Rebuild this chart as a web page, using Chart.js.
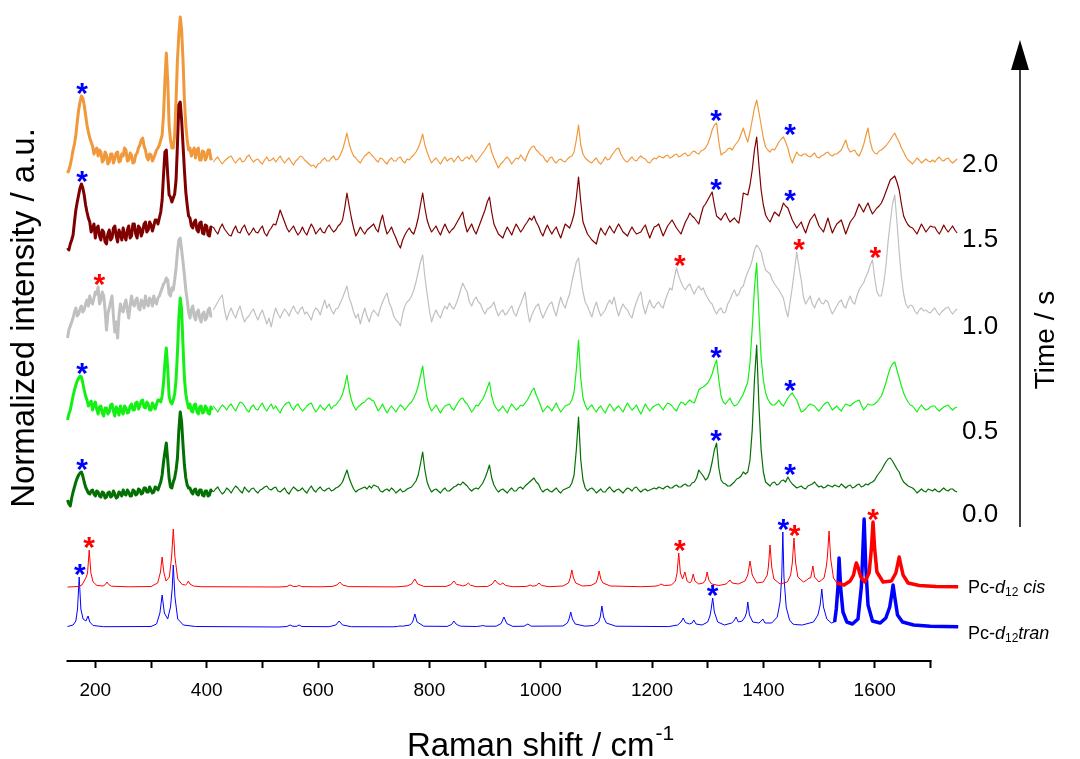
<!DOCTYPE html>
<html>
<head>
<meta charset="utf-8">
<script src="https://cdn.jsdelivr.net/npm/chart.js@4.4.1/dist/chart.umd.min.js"></script>
<style>
  html, body { margin: 0; padding: 0; background: #ffffff; }
  #wrap { width: 1080px; height: 759px; position: relative; }
</style>
</head>
<body>
<div id="wrap"><canvas id="c" width="1080" height="759"></canvas></div>
<script>
// ---------- sampling grids (Raman shift, cm^-1) ----------
function range(start, stop, step) {
  const out = [];
  for (let v = start; v <= stop + 1e-9; v += step) out.push(v);
  return out;
}
const lowShift = range(150, 410, 2.5);   // low-wavenumber window
const highShift = range(412, 1748, 4);   // fingerprint window

const tickValues = [200, 300, 400, 500, 600, 700, 800, 900, 1000, 1100, 1200, 1300, 1400, 1500, 1600, 1700];
const timeLabels = ['0.0', '0.5', '1.0', '1.5', '2.0'];

// ---------- measured spectra (intensity above each trace's own baseline, a.u.) ----------
const low0_0 = [
  -10,-14,-16,-8,-2,3,8,12,15,17,18,14,8,3,0,-3,-4,-1,0,-4,
  -6,-1,-2,-6,-7,-2,-3,-8,-7,-3,-2,-7,-6,-1,-4,-8,-7,-2,-3,-6,
  0,-4,-5,0,-2,-6,-6,0,-1,-5,-4,1,0,-4,-3,2,2,-2,-2,3,
  0,-3,-2,3,2,0,4,8,15,28,38,47,30,12,3,2,8,12,20,32,
  60,78,68,45,25,12,5,2,2,-2,-4,0,1,-4,-5,0,0,-5,-6,-1,
  -1,-6,-5,0,-2];
const high0_0 = [
  -2,1,3,-1,-4,-2,2,0,-3,1,4,2,-1,-3,3,0,-2,1,2,-1,
  -3,0,1,3,4,1,0,2,3,-1,-2,0,2,-2,-4,0,3,1,-1,0,
  2,-1,-3,1,4,0,-2,1,3,0,-1,1,2,-1,0,2,3,5,8,14,
  20,12,6,1,-2,0,1,2,3,1,4,2,5,4,3,-1,-2,0,1,-1,
  2,0,-3,-1,1,-2,-1,1,2,3,6,9,15,26,38,20,8,2,-2,0,
  1,-1,-3,0,2,-1,-1,1,3,4,6,5,8,6,4,1,-1,1,2,1,
  4,7,12,18,25,12,5,1,-2,0,1,-1,-3,0,2,-1,-1,2,3,1,
  4,6,8,10,12,8,6,1,-2,0,1,-1,-2,0,2,-1,-3,0,1,2,
  3,7,15,40,73,30,10,2,-1,1,2,0,-3,-1,1,-2,-2,1,3,0,
  -2,0,1,-1,-3,0,2,1,-1,2,3,0,-2,0,1,-1,0,1,2,1,
  3,2,1,3,4,2,2,4,5,3,3,5,6,4,4,7,8,12,20,17,
  14,10,12,18,28,40,47,22,10,7,6,4,4,6,8,11,12,14,18,16,
  18,30,60,110,145,85,40,18,8,6,4,7,8,5,6,9,10,8,13,9,
  6,4,2,3,4,2,1,4,5,6,8,5,3,4,2,3,5,4,3,5,
  4,3,6,4,2,4,5,2,3,5,6,3,4,6,5,7,8,10,14,17,
  20,24,28,31,32,29,25,21,18,12,8,6,4,3,2,0,-3,-1,1,-1,
  -2,1,0,-1,1,-1,-2,0,2,0,-1,1,1,-1,-2];

const low0_5 = [
  -12,-6,-2,5,12,18,23,27,30,32,31,25,18,12,8,2,4,7,-2,3,
  6,-1,-6,1,2,-5,-8,0,0,-6,-4,3,4,-3,-8,1,-2,-7,2,-3,
  -6,2,0,-5,-4,2,4,-2,-2,5,6,-1,2,7,8,1,0,6,4,-2,
  -2,5,2,-1,4,8,8,6,12,25,45,60,40,12,6,4,8,14,28,55,
  90,110,98,62,30,14,6,0,4,-3,-4,3,4,-4,-6,1,2,-5,-4,2,
  0,-5,-6,1,-2];
const high0_5 = [
  2,-1,-4,0,3,1,-2,2,4,0,-3,2,6,5,2,-2,-4,1,3,-1,
  -2,2,5,0,-3,1,4,-1,2,-2,-5,0,3,5,6,1,-2,2,4,0,
  -3,-1,2,4,5,0,-4,-1,3,0,-2,1,4,-1,2,3,6,9,14,22,
  33,18,8,2,-2,1,3,5,6,9,10,8,7,2,-3,0,4,-1,-5,-1,
  2,-1,-4,0,3,1,-2,1,4,6,10,15,22,32,42,24,10,2,-3,0,
  3,-1,-5,-1,2,3,4,0,-2,2,6,9,10,6,4,0,-4,-1,3,2,
  6,9,14,20,26,12,4,0,-3,-1,2,-2,-5,0,4,1,-2,0,3,2,
  5,8,12,17,20,13,8,2,-4,-1,2,0,-3,1,5,0,-4,-1,2,3,
  4,8,16,38,68,30,10,3,-2,1,3,-1,-4,0,2,-2,-5,0,4,1,
  -3,0,2,-1,-4,1,5,1,-2,0,3,-2,-6,-1,4,0,-3,0,2,3,
  4,1,-2,2,5,4,2,-1,-3,2,6,5,3,6,8,6,5,11,18,20,
  21,23,25,29,34,42,48,28,12,6,4,7,10,5,2,3,6,10,14,20,
  26,45,80,120,145,95,50,28,15,9,5,3,3,5,8,4,2,6,10,13,
  15,11,8,2,-4,-3,-1,2,4,3,2,-1,-3,0,3,5,6,2,-2,0,
  2,-1,-3,1,4,3,2,4,6,7,8,3,-2,1,4,3,3,4,6,9,
  12,18,25,33,40,44,46,38,30,22,15,10,6,3,2,-1,-4,0,3,0,
  -2,-1,1,2,2,-1,-3,-1,1,2,3,0,-2,0,1];

const low1_0 = [
  -26,-18,-14,-10,-6,0,4,-4,-2,3,6,0,2,8,12,6,16,10,8,14,
  20,18,25,8,12,20,16,2,-18,-2,4,10,16,-4,-20,-10,-26,-4,8,2,
  0,8,12,2,-6,6,16,8,6,12,14,4,2,12,10,4,16,8,6,14,
  12,6,16,10,8,14,16,20,24,28,30,34,32,18,16,24,22,32,44,60,
  72,74,62,50,37,22,12,0,-6,2,6,-4,-8,0,2,-6,-10,-2,0,-8,
  -6,2,4,-4,-4];
const high1_0 = [
  2,6,10,14,17,2,-8,-1,4,-2,-6,1,6,-3,-10,-6,-4,0,3,-3,
  -8,-2,2,-5,-12,-6,-15,-4,4,-2,-6,-1,3,0,-4,2,6,1,-2,3,
  5,-2,0,-4,-8,0,4,2,-3,5,12,4,8,2,-2,3,4,9,14,20,
  26,14,8,0,-6,-2,-12,-3,4,-4,-10,-2,2,-1,-4,4,10,15,19,9,
  4,-4,-8,-10,-14,-2,6,10,12,16,22,30,40,50,57,35,18,2,-10,-3,
  2,-3,-6,1,6,3,9,5,3,8,14,22,29,24,20,10,6,12,15,10,
  8,2,-2,3,4,6,10,2,-4,0,2,-3,-1,3,6,-1,-4,3,8,14,
  20,2,-10,-3,2,6,8,0,-6,-1,4,8,10,2,-4,6,15,8,4,12,
  18,30,40,50,54,35,20,10,6,0,-5,4,10,2,-4,-1,2,8,12,8,
  15,4,-4,3,8,4,2,-3,-6,3,10,16,20,6,-2,6,12,6,4,8,
  10,6,4,12,18,24,22,34,44,36,30,25,22,26,28,22,18,23,26,22,
  24,18,14,10,8,2,-2,2,4,-1,0,8,12,18,22,16,18,24,26,34,
  40,45,52,62,67,64,60,50,42,40,38,32,28,25,22,18,14,3,-5,10,
  25,42,60,45,32,15,8,12,16,8,4,10,14,9,8,12,10,3,-2,2,
  6,10,12,6,4,11,16,10,8,16,22,26,29,35,40,47,52,34,20,16,
  16,28,45,70,90,108,117,90,60,35,18,8,4,7,6,1,-2,2,4,1,
  2,0,-1,2,4,0,-3,0,2,4,5,1,-2,1,3];

const low1_5 = [
  -18,-20,-14,-10,-5,8,20,28,35,42,46,42,35,25,18,12,8,-2,2,6,
  -8,2,4,-6,-10,0,-2,-12,-14,-4,0,-10,-8,2,4,-6,-12,0,-4,-10,
  2,-6,-10,0,4,-8,-6,6,6,-4,-8,4,2,-6,-2,6,8,-2,0,8,
  5,-1,4,10,10,6,12,18,30,55,78,80,55,35,33,28,32,36,50,85,
  125,128,110,85,60,38,25,14,12,4,2,8,10,0,-2,7,8,-3,-4,5,
  4,-5,-6,3,2];
const high1_5 = [
  3,-1,-4,2,6,1,-2,-5,-6,0,4,-2,-3,2,5,-1,-5,-2,2,-2,
  -3,1,4,-3,-6,-1,2,6,5,12,20,14,8,2,-2,1,4,-1,-5,-2,
  3,-2,-5,1,6,2,-4,-1,2,-2,-3,2,5,1,-2,0,4,6,10,22,
  37,24,12,2,-6,-2,3,-1,-4,0,2,4,6,1,-2,8,15,4,-4,-1,
  3,-3,-8,-14,-18,-10,-5,-1,2,-2,-4,3,12,25,37,22,10,3,-2,1,
  4,-1,-5,1,6,1,-3,0,2,6,10,14,18,6,-2,2,6,0,-4,2,
  8,14,20,28,33,18,6,1,-4,-6,-8,-2,3,-1,-5,1,6,2,-2,1,
  5,8,12,10,14,8,4,-2,-6,0,5,0,-4,0,3,-3,-8,-1,6,4,
  2,8,16,32,53,28,8,2,-4,-7,-10,-12,-14,-5,2,-2,-5,0,4,0,
  -3,2,6,2,-2,-4,-6,-1,3,-1,-4,-3,-2,2,5,-2,-8,-2,3,4,
  6,0,-6,-1,4,7,10,6,2,-1,-4,2,8,12,17,14,12,9,6,15,
  23,26,30,34,38,25,14,12,10,14,17,12,8,10,12,9,7,20,37,36,
  35,45,60,80,93,65,40,25,15,11,8,13,18,16,14,20,27,24,22,16,
  10,6,2,5,8,2,-3,4,10,13,16,10,4,1,-2,5,12,4,-3,2,
  6,8,10,3,-4,2,8,11,14,20,26,22,18,23,27,21,16,19,22,24,
  27,32,38,44,50,52,54,48,40,26,14,9,5,3,2,-1,-4,1,6,2,
  -2,1,4,3,3,-1,-4,0,5,1,-2,1,4,0,-3];

const low2_0 = [
  -13,-10,-5,2,10,16,25,38,50,58,64,62,55,45,35,28,22,18,14,6,
  10,12,4,10,8,-2,0,8,5,-4,-2,6,6,-3,1,7,8,-2,-1,6,
  4,12,10,-1,0,7,5,-3,-2,5,7,12,15,20,22,14,10,3,0,6,
  5,-1,2,6,10,12,15,20,25,45,80,107,80,35,20,12,12,25,60,100,
  125,143,130,100,60,35,20,10,12,4,8,12,2,10,12,0,0,9,8,0,
  3,10,10,1,2];
const high2_0 = [
  -2,1,3,-1,-4,-1,1,3,4,0,-3,0,2,-2,-1,3,5,1,-2,0,
  1,-2,-4,0,3,-1,0,2,-2,1,4,0,-3,0,2,-2,-5,-1,1,4,
  3,0,-2,-4,-6,-5,-8,-4,-3,0,2,-1,-1,2,4,0,1,5,10,18,
  27,16,9,4,2,-1,-3,1,4,6,8,5,3,0,-2,2,1,-2,-4,0,
  2,-1,-1,2,3,-1,-3,1,0,3,5,8,12,18,26,15,8,2,-3,0,
  2,-1,-4,0,3,-1,1,2,-2,1,4,0,-1,2,3,1,5,1,-2,1,
  4,7,10,14,17,8,2,-3,-8,-4,-2,1,3,0,-4,-1,2,1,5,2,
  -1,5,10,13,14,10,8,5,4,0,-2,2,3,-1,-3,0,1,-1,-2,1,
  3,4,8,20,35,15,6,2,0,-2,-3,0,2,-2,-4,-1,3,0,1,5,
  8,11,12,6,2,-1,-2,1,3,0,-1,2,4,2,1,-2,-3,0,2,1,
  4,3,2,4,5,2,3,5,6,3,4,6,7,4,5,8,9,7,6,9,
  10,12,16,22,30,35,37,18,5,7,8,11,12,10,14,17,20,26,32,24,
  18,28,40,52,60,48,35,22,13,10,8,11,10,14,18,21,23,18,12,3,
  -3,3,8,5,4,6,6,4,3,5,7,3,2,4,5,7,8,5,4,6,
  6,8,10,15,20,12,8,9,10,6,4,9,15,24,32,18,10,7,6,9,
  10,12,14,17,20,24,27,22,18,12,8,3,0,-2,-4,-1,2,0,-3,-1,
  1,-1,-2,0,-2,1,3,0,-1,1,2,-1,-3,-1,1];

// ---------- calculated spectra of Pc-d12 ([shift, intensity]) ----------
const cisSpectrum = [
  [150,0],[170,0.5],[176,2],[180,6],[183,9],[186,14],[189,37],[192,14],[196,5],[203,1.5],
  [214,1],[218,2.5],[221,5],[224,2.5],[229,0.8],[260,0.2],[300,0.5],[312,4],[317,15],[320,30],
  [323,15],[327,6],[333,10],[337,30],[340,58],[343,30],[348,8],[356,2.5],[362,2],[365,3.5],
  [367,6],[370,3],[376,1],[390,0.3],[530,0],[544,0.5],[550,2],[556,0.5],[562,0.6],[566,1.5],
  [571,0.4],[600,0.2],[625,0.5],[634,2],[639,5],[644,2],[655,0.4],[740,0.1],[760,1],[768,3],
  [774,8],[779,3],[790,0.6],[830,0.6],[839,2.5],[844,6],[849,2.5],[855,2],[860,1],[866,2],
  [870,4],[874,1.8],[884,0.3],[905,0.6],[913,3],[918,7],[923,3.5],[928,2.5],[932,4],[937,1.5],
  [950,0.3],[972,0.5],[977,1],[981,2],[986,0.8],[992,1.5],[997,4],[1002,1.5],[1015,0.3],[1040,1],
  [1050,4],[1053,9],[1056,17],[1059,9],[1063,4],[1075,1],[1090,1.5],[1099,4],[1102,8],[1105,16],
  [1108,8],[1112,4],[1125,1],[1180,0.3],[1205,0.8],[1212,1.5],[1216,3],[1222,1.5],[1235,2],[1242,6],
  [1245,14],[1248,34],[1251,14],[1255,8],[1259,15],[1263,6],[1268,4],[1271,6],[1274,13],[1277,6],
  [1284,3],[1292,4],[1296,7],[1299,15],[1302,7],[1307,3],[1320,1.5],[1333,3],[1337,5],[1340,7],
  [1344,4],[1355,3],[1367,6],[1372,12],[1376,26],[1380,12],[1388,4],[1400,5],[1407,12],[1409,20],
  [1412,42],[1415,20],[1419,8],[1430,3],[1443,5],[1449,12],[1452,24],[1455,49],[1458,24],[1462,10],
  [1472,5],[1478,7],[1482,9],[1485,9],[1489,21],[1492,10],[1500,5],[1509,9],[1513,20],[1515,30],
  [1518,56],[1521,28],[1526,9],[1532,4],[1545,2],[1556,6],[1562,12],[1565,20],[1567,24],[1570,20],
  [1575,10],[1582,5],[1590,14],[1594,38],[1597,65],[1600,38],[1604,15],[1615,5],[1630,6],[1638,14],
  [1641,22],[1644,30],[1647,22],[1651,12],[1660,4],[1680,1.5],[1710,0.5],[1750,0.2]
];
const transSpectrum = [
  [150,0.5],[160,2],[165,6],[168,18],[171,50],[174,18],[178,8],[183,6],[187,11],[190,5],
  [196,1.5],[215,0.3],[300,0.5],[310,3],[316,14],[320,32],[324,14],[330,8],[335,20],[338,38],
  [340,62],[343,30],[348,8],[358,2],[380,0.5],[530,0],[544,0.5],[550,2],[555,0.7],[562,0.7],
  [566,2],[571,0.5],[620,0.3],[632,2],[638,6],[644,2],[660,0.3],[735,0.2],[743,0.6],[747,1],
  [752,0.8],[765,2],[770,5],[774,13],[778,5],[790,0.8],[832,0.6],[840,2.5],[844,6],[848,3],
  [851,2],[856,0.8],[885,0.5],[892,1],[896,1.5],[901,0.8],[920,0.8],[929,3.5],[934,10],[939,3.5],
  [950,0.6],[970,0.8],[977,3],[983,0.8],[1040,1],[1048,4],[1051,8],[1054,15],[1057,8],[1062,3],
  [1080,0.8],[1095,1.5],[1104,5],[1107,10],[1110,21],[1113,10],[1118,4],[1135,0.8],[1230,0.4],[1246,2],
  [1252,5],[1256,9],[1260,4.5],[1267,3],[1272,4],[1275,7],[1279,3],[1290,2],[1300,5],[1304,11],
  [1306,17],[1309,29],[1312,15],[1318,5],[1330,2],[1343,4],[1347,6],[1351,10],[1355,5],[1362,6],
  [1367,10],[1370,15],[1372,25],[1375,12],[1381,5],[1392,4],[1396,6],[1399,8],[1403,4],[1415,4],
  [1425,10],[1430,25],[1433,50],[1435,95],[1437,50],[1441,20],[1447,7],[1453,3],[1456,2.5],[1470,2],
  [1490,5],[1498,12],[1502,22],[1505,38],[1508,20],[1514,8],[1522,4],[1528,5],[1531,18],[1534,40],
  [1536,69],[1539,38],[1543,15],[1550,5],[1560,3],[1570,8],[1576,40],[1579,80],[1581,108],[1584,60],
  [1588,22],[1596,6],[1610,4],[1620,9],[1627,20],[1631,34],[1633,42],[1636,30],[1641,12],[1650,5],
  [1670,2],[1700,0.8],[1750,0.3]
];

// band assignments marked with asterisks: [trace, shift, colour]
const BLUE = '#0000FF', RED = '#FF0000';
const starMarks = [
  ['2.0', 176, BLUE], ['2.0', 1315, BLUE], ['2.0', 1448, BLUE],
  ['1.5', 176, BLUE], ['1.5', 1315, BLUE], ['1.5', 1448, BLUE],
  ['1.0', 207, RED], ['1.0', 1250, RED], ['1.0', 1464, RED], ['1.0', 1601, RED],
  ['0.5', 176, BLUE], ['0.5', 1315, BLUE], ['0.5', 1448, BLUE],
  ['0.0', 176, BLUE], ['0.0', 1315, BLUE], ['0.0', 1448, BLUE],
  ['cis', 189, RED], ['cis', 1250, RED], ['cis', 1456, RED], ['cis', 1597, RED],
  ['trans', 172, BLUE], ['trans', 1309, BLUE], ['trans', 1436, BLUE]
];

// ---------- layout & styling ----------
const FAMILY = "'Liberation Sans', Arial, Helvetica, sans-serif";
const AXIS_MIN = 150, AXIS_MAX = 1700;   // drawn axis extent
const traces = [
  { key: '0.0', low: low0_0, high: high0_0, color: '#037003', base: 170 },
  { key: '0.5', low: low0_5, high: high0_5, color: '#14F014', base: 252 },
  { key: '1.0', low: low1_0, high: high1_0, color: '#C0C0C0', base: 348 },
  { key: '1.5', low: low1_5, high: high1_5, color: '#800000', base: 430 },
  { key: '2.0', low: low2_0, high: high2_0, color: '#F0983C', base: 500 }
];
const calc = [
  { key: 'cis', pts: cisSpectrum, color: '#FF0000', base: 73, split: 1532 },
  { key: 'trans', pts: transSpectrum, color: '#0000FF', base: 33, split: 1528 }
];

const seriesPoints = {};
const datasets = [];
function lineSet(data, color, width) {
  return { data, borderColor: color, backgroundColor: color, borderWidth: width,
           pointRadius: 0, tension: 0, clip: false, borderJoinStyle: 'round', borderCapStyle: 'butt' };
}
traces.forEach(t => {
  const lo = lowShift.map((x, i) => ({ x, y: t.low[i] + t.base }));
  const hi = highShift.map((x, i) => ({ x, y: t.high[i] + t.base }));
  seriesPoints[t.key] = lo.concat(hi);
  datasets.push(lineSet(lo, t.color, 3));
  datasets.push(lineSet(hi, t.color, 1.2));
});
calc.forEach(c => {
  const all = c.pts.map(([x, v]) => ({ x, y: v + c.base }));
  seriesPoints[c.key] = all;
  datasets.push(lineSet(all.filter(p => p.x <= c.split), c.color, 1));
  datasets.push(lineSet(all.filter(p => p.x >= c.split), c.color, 3.5));
});

function drawRich(ctx, parts, x, y) {
  let cx = x;
  for (const p of parts) {
    const size = p.sub ? 12 : 18;
    ctx.font = `${p.italic ? 'italic ' : ''}${size}px ${FAMILY}`;
    ctx.fillText(p.t, cx, y + (p.sub ? 5 : 0));
    cx += ctx.measureText(p.t).width;
  }
}

const decor = {
  id: 'decor',
  afterDraw(chart) {
    const { ctx, chartArea } = chart;
    const xs = chart.scales.x, ys = chart.scales.y;
    ctx.save();

    // bottom axis line, limited to the labelled range
    ctx.strokeStyle = '#000';
    ctx.lineWidth = 2;
    ctx.beginPath();
    ctx.moveTo(xs.getPixelForValue(AXIS_MIN) - 1, chartArea.bottom + 1);
    ctx.lineTo(xs.getPixelForValue(AXIS_MAX) + 1, chartArea.bottom + 1);
    ctx.stroke();

    // asterisks above the assigned bands
    const starSize = 30;
    ctx.font = `bold ${starSize}px ${FAMILY}`;
    ctx.textAlign = 'center';
    ctx.textBaseline = 'alphabetic';
    for (const [key, shift, colour] of starMarks) {
      let top = -Infinity;
      for (const p of seriesPoints[key]) if (Math.abs(p.x - shift) <= 12 && p.y > top) top = p.y;
      const cx = xs.getPixelForValue(shift);
      const cy = ys.getPixelForValue(top) - 10;
      ctx.fillStyle = colour;
      ctx.fillText('*', cx, cy + 0.58 * starSize);
    }

    ctx.fillStyle = '#000';
    ctx.strokeStyle = '#000';

    // time axis with arrow on the right
    const ax = 1020;
    ctx.lineWidth = 1.5;
    ctx.beginPath(); ctx.moveTo(ax, 527); ctx.lineTo(ax, 62); ctx.stroke();
    ctx.beginPath(); ctx.moveTo(ax, 40); ctx.lineTo(ax - 9, 70); ctx.lineTo(ax + 9, 70); ctx.closePath(); ctx.fill();

    const timeY = [515, 432, 327, 240, 165];
    ctx.font = `26px ${FAMILY}`;
    ctx.textAlign = 'left';
    ctx.textBaseline = 'middle';
    timeLabels.forEach((s, i) => ctx.fillText(s, 962, timeY[i]));

    ctx.save();
    ctx.translate(1046, 340);
    ctx.rotate(-Math.PI / 2);
    ctx.textAlign = 'center';
    ctx.font = `28px ${FAMILY}`;
    ctx.fillText('Time / s', 0, 0);
    ctx.restore();

    ctx.save();
    ctx.translate(25, 318);
    ctx.rotate(-Math.PI / 2);
    ctx.textAlign = 'center';
    ctx.font = `33px ${FAMILY}`;
    ctx.fillText('Normalized intensity / a.u.', 0, 0);
    ctx.restore();

    // x-axis title with superscript
    ctx.textAlign = 'left';
    ctx.textBaseline = 'alphabetic';
    ctx.font = `33px ${FAMILY}`;
    const main = 'Raman shift / cm';
    const w1 = ctx.measureText(main).width;
    ctx.font = `21px ${FAMILY}`;
    const w2 = ctx.measureText('-1').width;
    const sx = 540 - (w1 + w2) / 2;
    ctx.font = `33px ${FAMILY}`;
    ctx.fillText(main, sx, 756);
    ctx.font = `21px ${FAMILY}`;
    ctx.fillText('-1', sx + w1 + 1, 740);

    // labels of the calculated spectra
    ctx.textBaseline = 'middle';
    drawRich(ctx, [{ t: 'Pc-' }, { t: 'd', italic: true }, { t: '12', sub: true }, { t: ' cis', italic: true }], 968, 588);
    drawRich(ctx, [{ t: 'Pc-' }, { t: 'd', italic: true }, { t: '12', sub: true }, { t: 'tran', italic: true }], 968, 634);

    ctx.restore();
  }
};

new Chart(document.getElementById('c'), {
  type: 'line',
  data: { datasets },
  options: {
    responsive: false,
    animation: false,
    devicePixelRatio: 1,
    layout: { padding: { left: 67.5, right: 121.8, top: 10, bottom: 59 } },
    plugins: { legend: { display: false }, tooltip: { enabled: false } },
    scales: {
      x: {
        type: 'linear', min: 150, max: 1750, position: 'bottom',
        afterBuildTicks: s => { s.ticks = tickValues.map(v => ({ value: v })); },
        afterFit: s => { s.height = 40; },
        grid: { display: true, drawOnChartArea: false, drawTicks: true, tickLength: 8, tickWidth: 2, tickColor: '#000' },
        border: { display: false },
        ticks: { autoSkip: false, maxRotation: 0, color: '#000', padding: 11,
                 font: { family: FAMILY, size: 19 },
                 callback: v => (v % 200 === 0 ? String(v) : '') }
      },
      y: { type: 'linear', display: false, min: 0, max: 650 }
    }
  },
  plugins: [decor]
});
</script>
</body>
</html>
